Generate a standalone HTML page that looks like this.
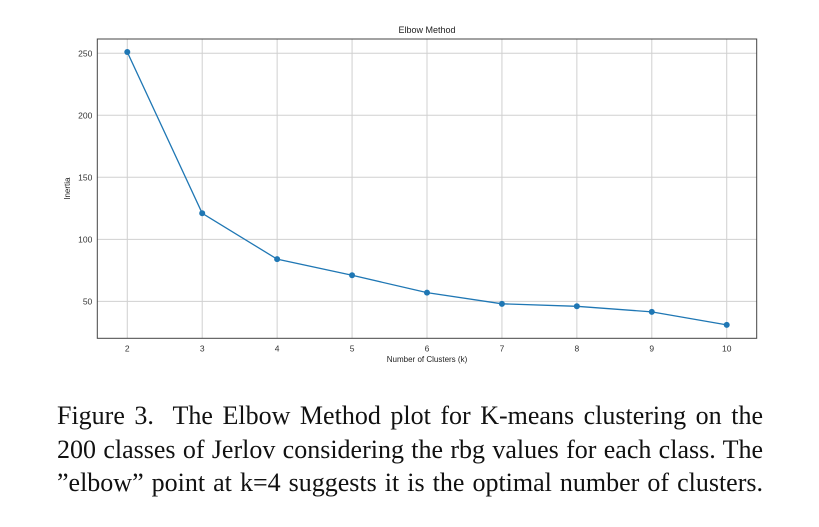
<!DOCTYPE html>
<html><head><meta charset="utf-8"><style>
body{margin:0;background:#fff;width:819px;height:527px;overflow:hidden;position:relative}
.cap{position:absolute;left:57px;top:399px;width:706px;font-family:"Liberation Serif",serif;font-size:26px;line-height:33.5px;color:#111}
.cap div{text-align:justify;text-align-last:justify;white-space:nowrap}
</style></head><body>
<svg id="chart" width="819" height="390" style="position:absolute;left:0;top:0" font-family="Liberation Sans, sans-serif"></svg>
<div class="cap"><div>Figure 3.&nbsp; The Elbow Method plot for K-means clustering on the</div><div>200 classes of Jerlov considering the rbg values for each class. The</div><div>”elbow” point at k=4 suggests it is the optimal number of clusters.</div></div>
<script>
const categories=[2,3,4,5,6,7,8,9,10];
const inertia=[251,121,84,71,57,48,46,41.5,31];
const yTicks=[50,100,150,200,250];
const L=97.3,R=756.7,T=39,B=338.3;
const xMin=1.6,xMax=10.4,yMin=20.2,yMax=261.5;
const X=v=>L+(v-xMin)/(xMax-xMin)*(R-L);
const Y=v=>B-(v-yMin)/(yMax-yMin)*(B-T);
const svg=document.getElementById('chart');
const NS='http://www.w3.org/2000/svg';
function mk(t,a,txt){const e=document.createElementNS(NS,t);for(const k in a)e.setAttribute(k,a[k]);if(txt!=null)e.textContent=txt;svg.appendChild(e);return e;}
categories.forEach(c=>{
const g=mk('line',{x1:X(c),x2:X(c),y1:T,y2:B,stroke:'#d0d0d0','stroke-width':1});


const t=mk('text',{x:X(c),y:B+13,'font-size':8.5,'text-anchor':'middle',fill:'#333'},c);


});
yTicks.forEach(v=>{
const g=mk('line',{x1:L,x2:R,y1:Y(v),y2:Y(v),stroke:'#d0d0d0','stroke-width':1});


const t=mk('text',{x:L-5,y:Y(v)+3,'font-size':8.5,'text-anchor':'end',fill:'#333'},v);


});
const fr=mk('rect',{x:L,y:T,width:R-L,height:B-T,fill:'none',stroke:'#444','stroke-width':1});


const pl=mk('polyline',{points:categories.map((c,i)=>X(c)+','+Y(inertia[i])).join(' '),fill:'none',stroke:'#1f77b4','stroke-width':1.3});


categories.forEach((c,i)=>{
const p=mk('circle',{cx:X(c),cy:Y(inertia[i]),r:3,fill:'#1f77b4'});


});
const ti=mk('text',{x:(L+R)/2,y:33,'font-size':9,'text-anchor':'middle',fill:'#222'},'Elbow Method');


const xl=mk('text',{x:(L+R)/2,y:362,'font-size':8,'text-anchor':'middle',fill:'#222'},'Number of Clusters (k)');


const yl=mk('text',{x:0,y:0,'font-size':8,'text-anchor':'middle',fill:'#222',transform:'translate(70,'+((T+B)/2)+') rotate(-90)'},'Inertia');


</script>
</body></html>
